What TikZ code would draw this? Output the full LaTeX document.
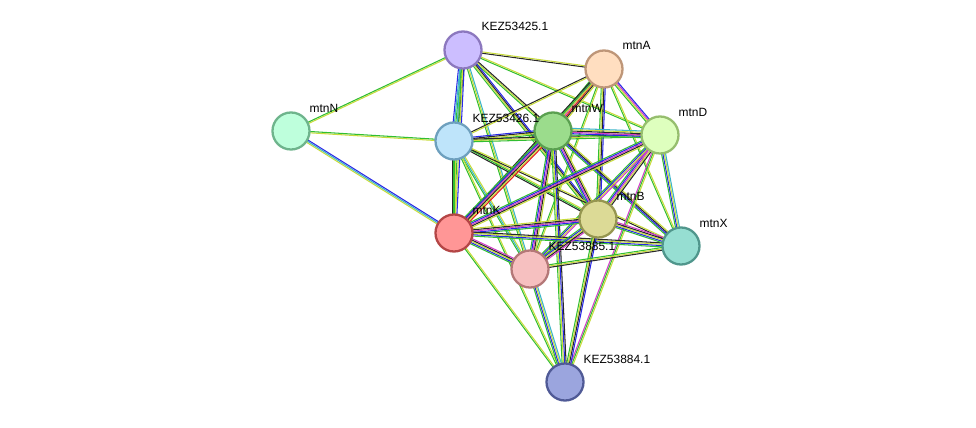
\documentclass[tikz,border=0pt]{standalone}
\usepackage{fontspec}
\setmainfont{Liberation Sans}
\usetikzlibrary{calc,backgrounds}
\definecolor{cY}{RGB}{200,220,60}
\definecolor{cG}{RGB}{50,190,50}
\definecolor{cB}{RGB}{40,40,230}
\definecolor{cK}{RGB}{40,40,40}
\definecolor{cM}{RGB}{210,60,200}
\definecolor{cC}{RGB}{60,180,200}
\definecolor{cR}{RGB}{230,30,30}
\newcommand\ed[4]{%
  \foreach \c [count=\i] in {#4}{%
    \pgfmathsetmacro\o{(\i-(#3+1)/2)*0.38}%
    \draw[\c,line width=0.3pt] ($(#1)!\o pt!90:(#2)$) -- ($(#2)!\o pt!-90:(#1)$);
  }}
\tikzset{
  nd/.style={circle,draw,line width=0.65pt,minimum size=0.37cm,inner sep=0},
  lab/.style={anchor=base west,inner sep=0,font=\fontsize{3.4}{4}\selectfont}
}
\begin{document}
\begin{tikzpicture}[x=0.01cm,y=-0.01cm]
\useasboundingbox (0,0) rectangle (976,428);
\node[nd,fill={rgb,255:red,204;green,190;blue,255},draw={rgb,255:red,140;green,120;blue,190}] (k25) at (463,50) {};
\node[nd,fill={rgb,255:red,255;green,222;blue,192},draw={rgb,255:red,190;green,150;blue,120}] (A) at (604,69) {};
\node[nd,fill={rgb,255:red,190;green,255;blue,220},draw={rgb,255:red,110;green,180;blue,140}] (N) at (291,131) {};
\node[nd,fill={rgb,255:red,190;green,228;blue,250},draw={rgb,255:red,110;green,160;blue,190}] (k26) at (454,141) {};
\node[nd,fill={rgb,255:red,155;green,220;blue,140},draw={rgb,255:red,90;green,160;blue,80}] (W) at (553,131) {};
\node[nd,fill={rgb,255:red,222;green,255;blue,190},draw={rgb,255:red,150;green,190;blue,110}] (D) at (660,135) {};
\node[nd,fill={rgb,255:red,255;green,150;blue,150},draw={rgb,255:red,180;green,70;blue,70}] (K) at (454,233) {};
\node[nd,fill={rgb,255:red,220;green,218;blue,150},draw={rgb,255:red,150;green,150;blue,80}] (B) at (598,219) {};
\node[nd,fill={rgb,255:red,150;green,222;blue,210},draw={rgb,255:red,80;green,150;blue,140}] (X) at (681,246) {};
\node[nd,fill={rgb,255:red,246;green,192;blue,192},draw={rgb,255:red,180;green,120;blue,120}] (k85) at (530,269) {};
\node[nd,fill={rgb,255:red,155;green,165;blue,222},draw={rgb,255:red,80;green,90;blue,150}] (k84) at (565,382) {};
\node[lab] at ([shift={(18,-19)}]k25) {KEZ53425.1};
\node[lab] at ([shift={(18,-19)}]A) {mtnA};
\node[lab] at ([shift={(18,-18)}]N) {mtnN};
\node[lab] at ([shift={(18,-18)}]k26) {KEZ53426.1};
\node[lab] at ([shift={(18,-18)}]W) {mtnW};
\node[lab] at ([shift={(18,-18)}]D) {mtnD};
\node[lab] at ([shift={(18,-18)}]K) {mtnK};
\node[lab] at ([shift={(18,-18)}]B) {mtnB};
\node[lab] at ([shift={(18,-18)}]X) {mtnX};
\node[lab] at ([shift={(18,-18)}]k85) {KEZ53885.1};
\node[lab] at ([shift={(18,-18)}]k84) {KEZ53884.1};
\begin{pgfonlayer}{background}
\ed{N}{k25}{2}{cY,cG}
\ed{N}{k26}{2}{cY,cG}
\ed{N}{K}{3}{cY,cC,cB}
\ed{k25}{A}{2}{cK,cY}
\ed{k25}{k26}{5}{cB,cC,cG,cY,cK}
\ed{k25}{W}{3}{cG,cY,cK}
\ed{k25}{D}{2}{cG,cY}
\ed{k25}{B}{4}{cG,cY,cK,cB}
\ed{k25}{k85}{3}{cG,cY,cC}
\ed{k25}{K}{4}{cC,cG,cY,cB}
\ed{A}{k26}{2}{cK,cY}
\ed{A}{W}{6}{cG,cB,cM,cR,cK,cY}
\ed{A}{D}{4}{cG,cY,cM,cB}
\ed{A}{B}{4}{cG,cY,cK,cB}
\ed{A}{X}{2}{cG,cY}
\ed{A}{K}{3}{cK,cG,cY}
\ed{A}{k85}{2}{cG,cY}
\ed{k26}{W}{4}{cG,cY,cK,cB}
\ed{k26}{D}{3}{cG,cY,cK}
\ed{k26}{K}{3}{cK,cG,cY}
\ed{k26}{B}{3}{cK,cG,cY}
\ed{k26}{X}{2}{cK,cY}
\ed{k26}{k85}{3}{cG,cC,cY}
\ed{k26}{k84}{2}{cG,cY}
\ed{W}{D}{6}{cG,cB,cM,cK,cY,cC}
\ed{W}{K}{6}{cG,cB,cM,cK,cY,cR}
\ed{W}{B}{5}{cG,cB,cM,cK,cY}
\ed{W}{X}{4}{cG,cB,cK,cY}
\ed{W}{k85}{5}{cG,cB,cM,cK,cY}
\ed{W}{k84}{4}{cG,cY,cB,cK}
\ed{D}{K}{5}{cG,cB,cM,cK,cY}
\ed{D}{B}{5}{cG,cB,cM,cY,cK}
\ed{D}{X}{4}{cG,cB,cY,cC}
\ed{D}{k85}{4}{cG,cB,cY,cM}
\ed{D}{k84}{3}{cM,cG,cY}
\ed{K}{B}{5}{cG,cB,cM,cK,cY}
\ed{K}{X}{4}{cG,cB,cY,cK}
\ed{K}{k85}{5}{cG,cB,cY,cK,cM}
\ed{K}{k84}{2}{cG,cY}
\ed{B}{X}{5}{cG,cB,cY,cK,cM}
\ed{B}{k85}{5}{cG,cB,cY,cK,cM}
\ed{B}{k84}{4}{cG,cY,cK,cB}
\ed{X}{k85}{3}{cG,cY,cK}
\ed{k85}{k84}{4}{cG,cB,cY,cC}
\end{pgfonlayer}
\end{tikzpicture}
\end{document}
